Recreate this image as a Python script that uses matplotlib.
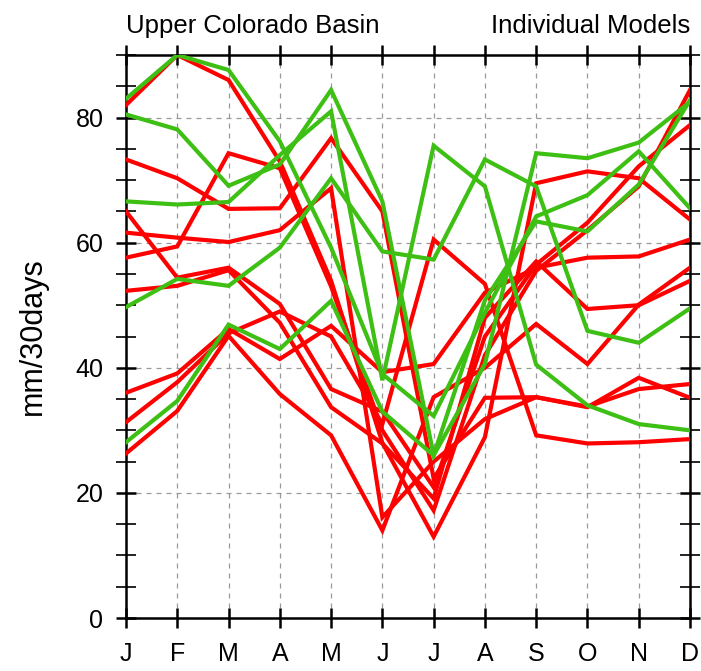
import matplotlib
matplotlib.use("Agg")
import matplotlib.pyplot as plt
from matplotlib.ticker import MultipleLocator, FixedLocator

plt.rcParams['font.family'] = ['Liberation Sans', 'DejaVu Sans']

months = ["J", "F", "M", "A", "M", "J", "J", "A", "S", "O", "N", "D"]

red_1 = [82.0, 90.0, 86.0, 73.0, 53.9, 28.0, 13.0, 28.9, 69.5, 71.4, 70.3, 63.7]
red_2 = [73.3, 70.3, 65.4, 65.5, 76.7, 65.0, 22.3, 35.2, 35.3, 33.7, 38.4, 35.2]
red_3 = [65.0, 54.4, 56.0, 50.2, 36.6, 33.0, 20.9, 45.0, 56.5, 63.2, 72.2, 78.8]
red_4 = [61.6, 60.8, 60.1, 62.0, 68.7, 16.1, 25.0, 31.8, 35.3, 33.8, 36.6, 37.4]
red_5 = [57.6, 59.4, 74.3, 71.9, 53.0, 30.0, 17.2, 42.0, 55.5, 62.0, 69.0, 84.4]
red_6 = [52.3, 53.1, 55.6, 47.2, 33.7, 27.9, 19.1, 48.0, 57.0, 49.4, 50.0, 53.9]
red_7 = [36.0, 39.1, 46.2, 41.4, 46.7, 39.3, 40.6, 52.0, 56.0, 57.6, 57.8, 60.5]
red_8 = [31.3, 37.7, 45.5, 49.0, 45.0, 31.0, 60.5, 53.4, 29.2, 27.9, 28.1, 28.6]
red_9 = [26.3, 33.1, 45.1, 35.8, 29.2, 14.0, 35.3, 40.0, 47.0, 40.6, 50.1, 56.0]

green_1 = [83.0, 90.0, 87.6, 76.2, 59.2, 39.0, 32.3, 48.8, 64.2, 67.6, 74.6, 65.5]
green_2 = [80.5, 78.1, 69.1, 72.5, 84.4, 66.6, 26.0, 40.6, 74.3, 73.5, 76.0, 82.5]
green_3 = [66.6, 66.1, 66.5, 74.0, 81.0, 38.0, 75.5, 69.0, 40.5, 34.0, 31.0, 30.0]
green_4 = [49.7, 54.2, 53.1, 59.2, 70.3, 58.6, 57.3, 73.3, 69.0, 45.9, 44.0, 49.5]
green_5 = [28.1, 34.7, 46.9, 43.0, 50.7, 33.0, 26.0, 50.8, 63.4, 61.8, 69.3, 82.8]

reds = [red_1, red_2, red_3, red_4, red_5, red_6, red_7, red_8, red_9]
greens = [green_1, green_2, green_3, green_4, green_5]

y_ticks = [0, 20, 40, 60, 80]

W, H = 701, 671
fig = plt.figure(figsize=(W / 100, H / 100), dpi=100)
ax = fig.add_axes([126 / W, (H - 618) / H, (690 - 126) / W, (618 - 55) / H])

x = list(range(len(months)))
lw = 3.0
for s in reds:
    ax.plot(x, s, color="#ff0000", lw=lw, solid_joinstyle="miter", zorder=3, clip_on=True)
for s in greens:
    ax.plot(x, s, color="#3dbf14", lw=lw, solid_joinstyle="miter", zorder=4, clip_on=True)

ax.set_xlim(0, 11)
ax.set_ylim(0, 90)
ax.set_xticks(x)
ax.set_xticklabels(months)
ax.yaxis.set_major_locator(FixedLocator(y_ticks))
ax.yaxis.set_minor_locator(MultipleLocator(5))

for sp in ax.spines.values():
    sp.set_linewidth(1.8)
    sp.set_color("black")

ax.tick_params(axis="both", which="major", direction="inout", length=14.5, width=1.8,
               labelsize=18, top=True, right=True, color="black")
ax.tick_params(axis="y", which="minor", direction="inout", length=14.5, width=1.2,
               left=True, right=True)
ax.tick_params(axis="x", which="major", pad=10)
ax.tick_params(axis="y", which="major", pad=9)

ax.grid(True, which="major", color="#999999", linestyle=(0, (4, 4)), linewidth=0.9, zorder=1)
ax.set_axisbelow(True)

ax.set_ylabel("mm/30days", fontsize=22, labelpad=20)

ax.annotate("Upper Colorado Basin", xy=(0, 1), xycoords="axes fraction",
            xytext=(0, 16), textcoords="offset points", ha="left", va="baseline", fontsize=18.5)
ax.annotate("Individual Models", xy=(1, 1), xycoords="axes fraction",
            xytext=(0, 16), textcoords="offset points", ha="right", va="baseline", fontsize=18.5)

fig.savefig("out.png", dpi=100)
